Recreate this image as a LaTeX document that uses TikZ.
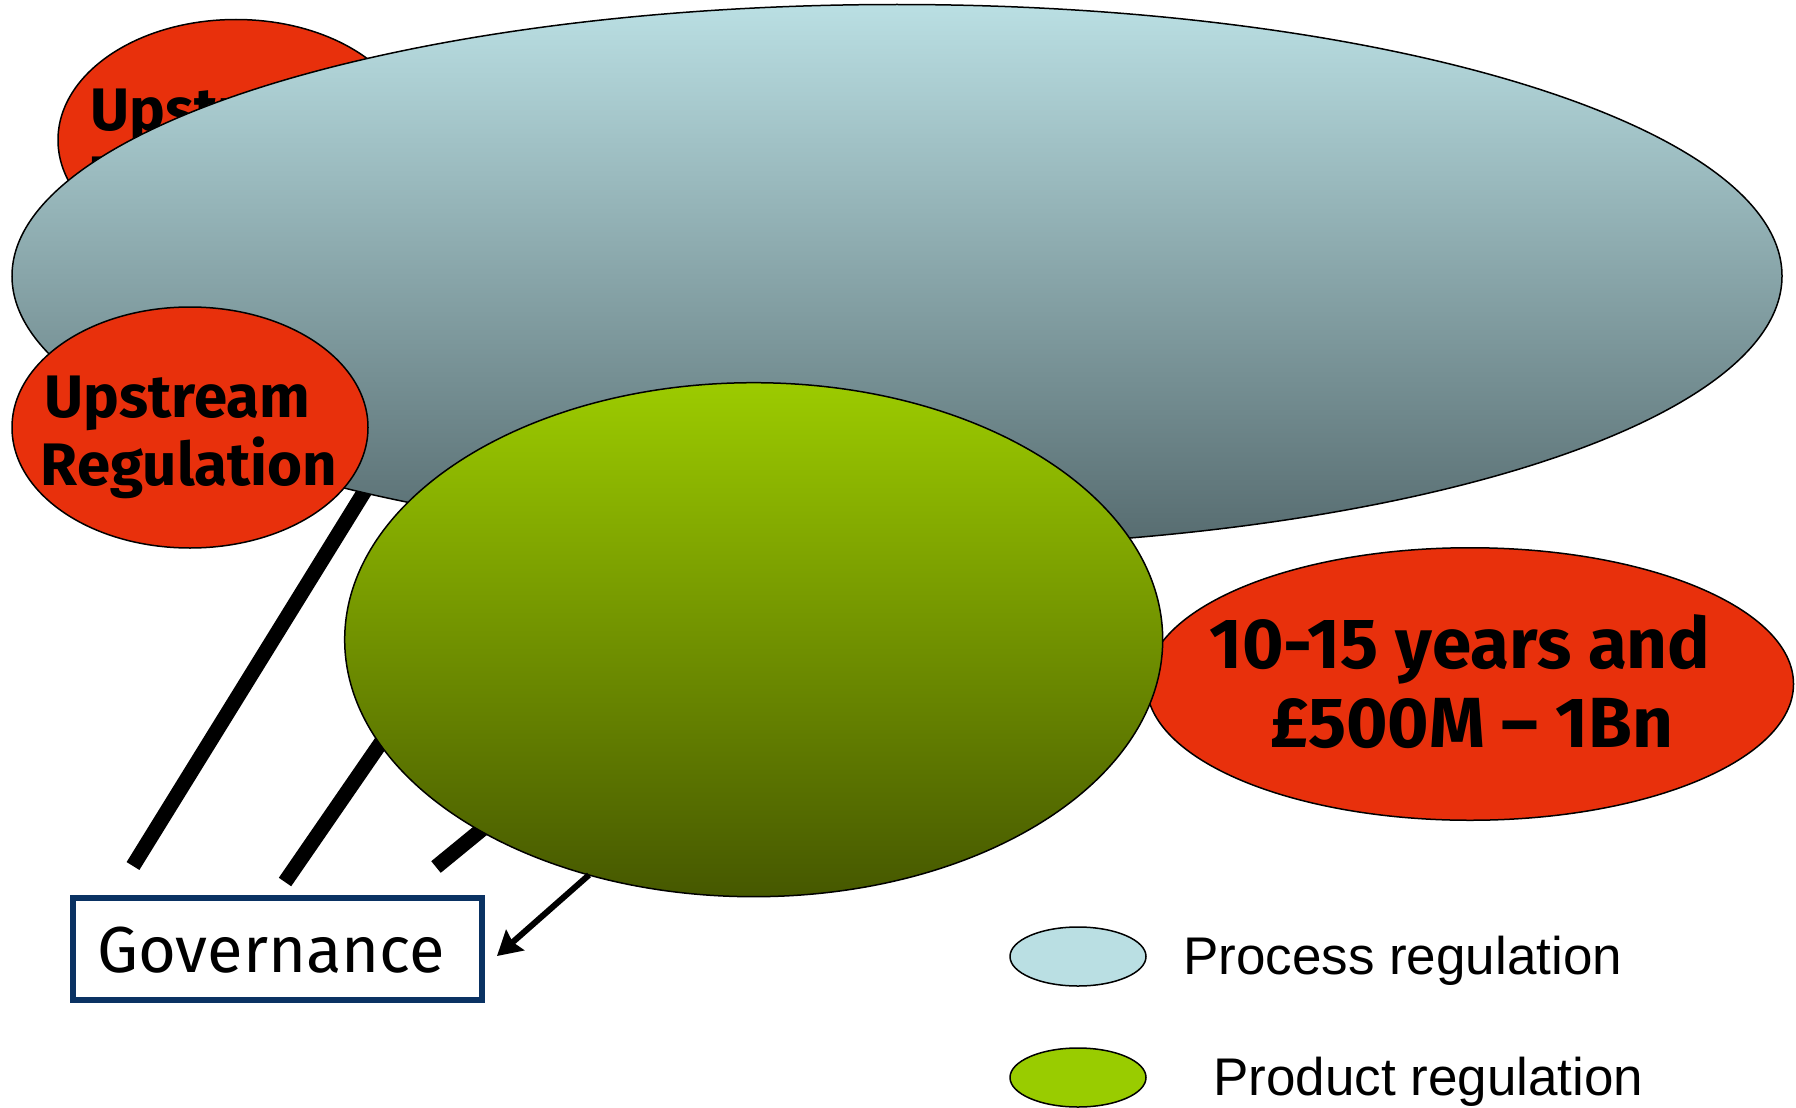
\documentclass[tikz,border=0pt]{standalone}
\usepackage{fontspec}
\setmainfont{Liberation Sans}
\newfontfamily\comicfont{Fira Sans}
\usetikzlibrary{shapes.geometric,arrows.meta}
\definecolor{redfill}{HTML}{E8300C}
\definecolor{bluetop}{HTML}{BADFE3}
\definecolor{bluebot}{HTML}{566B6F}
\definecolor{greentop}{HTML}{9CCB00}
\definecolor{greenbot}{HTML}{465800}
\definecolor{navy}{HTML}{0A3263}
\definecolor{legblue}{HTML}{BADFE3}
\definecolor{leggreen}{HTML}{99CC00}
\begin{document}
\begin{tikzpicture}[x=1pt,y=-1pt,
  ell/.style={ellipse, draw=black, line width=1.5pt, inner sep=0pt, outer sep=0pt},
  redell/.style={ell, fill=redfill, minimum width=356pt, minimum height=241pt},
  redtxt/.style={font=\comicfont\bfseries\fontsize{60pt}{68pt}\selectfont, inner sep=0pt, anchor=base},
  bigtxt/.style={font=\comicfont\bfseries\fontsize{71pt}{79pt}\selectfont, inner sep=0pt, anchor=base},
  govtxt/.style={font=\comicfont\fontsize{65pt}{70pt}\selectfont, inner sep=0pt, anchor=base west},
  legtxt/.style={font=\fontsize{53pt}{60pt}\selectfont, inner sep=0pt, anchor=base west},
  legell/.style={ell, minimum width=136pt, minimum height=59pt},
  thickline/.style={line width=15pt, line cap=butt, draw=black},
  thinarrow/.style={line width=6pt, draw=black, -{Stealth[length=24pt, width=27pt, inset=3pt]}}
]
\useasboundingbox (0,0) rectangle (1796,1108);
\fill[white] (0,0) rectangle (1796,1108);

% hidden upper copy of the upstream ellipse
\node[redell] (upA) at (236,140) {};
\node[redtxt] (upAa) at (223.5,130) {Upstream};
\node[redtxt] (upAb) at (237,198) {Regulation};

% connector ends
\coordinate (l1a) at (133,866);
\coordinate (l1b) at (400,434);
\coordinate (l2a) at (285,882);
\coordinate (l2b) at (420,686);
\coordinate (l3a) at (436,867);
\coordinate (l3b) at (530,790);
\coordinate (arrtip) at (497,956);

\draw[thickline] (l1a) -- (l1b);
\draw[thickline] (l2a) -- (l2b);
\draw[thickline] (l3a) -- (l3b);

% process regulation ellipse
\node[ell, top color=bluetop, bottom color=bluebot, minimum width=1770pt, minimum height=543pt] (proc) at (897,276) {};

% lower upstream ellipse
\node[redell] (upB) at (190,427.5) {};
\node[redtxt] (upBa) at (177.5,417) {Upstream};
\node[redtxt] (upBb) at (189,485) {Regulation};

% right cost ellipse
\node[ell, fill=redfill, minimum width=647pt, minimum height=272.5pt] (cost) at (1470,684) {};
\node[bigtxt] (costa) at (1460,668) {10-15 years and};
\node[bigtxt] (costb) at (1472,747) {£500M – 1Bn};

% product regulation ellipse
\node[ell, top color=greentop, bottom color=greenbot, minimum width=818pt, minimum height=514pt] (prod) at (753.7,639.7) {};

\draw[thinarrow] (prod.235.8) -- (arrtip);

% governance
\node[draw=navy, line width=6pt, minimum width=408.6pt, minimum height=102.8pt, inner sep=0pt] (gov) at (277.2,949) {};
\node[govtxt] (govt) at (97,972) {Governance};

% legend
\node[legell, fill=legblue] (legA) at (1078,956.5) {};
\node[legtxt] (legAt) at (1183,974) {Process regulation};
\node[legell, fill=leggreen] (legB) at (1078,1077.5) {};
\node[legtxt] (legBt) at (1213,1095) {Product regulation};
\end{tikzpicture}
\end{document}
